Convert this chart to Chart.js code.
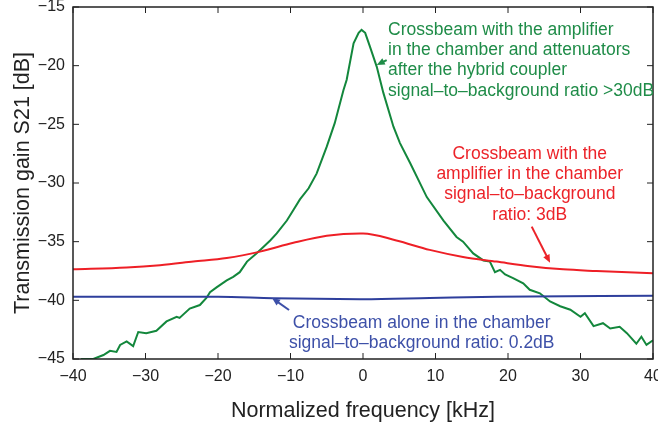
<!DOCTYPE html>
<html>
<head>
<meta charset="utf-8">
<script src="https://cdn.jsdelivr.net/npm/chart.js@4/dist/chart.umd.min.js"></script>
<style>
  html, body { margin: 0; padding: 0; background: #fff; }
  #wrap { width: 658px; height: 428px; }
</style>
</head>
<body>
<div id="wrap"><canvas id="myChart"></canvas></div>
<script>
// ticks
var xTicks = [-40, -30, -20, -10, 0, 10, 20, 30, 40];
var yTicks = [-45, -40, -35, -30, -25, -20, -15];

// green: amplifier in chamber + attenuators after hybrid coupler
var greenFreq = [-40, -38.8, -37.2, -35.8, -34.9, -34.0, -33.5, -32.6, -31.7, -31.0, -29.9, -28.5, -27.1, -25.7, -25.3,
  -23.9, -22.5, -21.6, -21.1, -20.2, -18.8, -17.9, -17.0, -16.0, -14.7, -14.0, -12.8, -11.9, -10.5, -9.6, -8.7,
  -7.5, -6.4, -5.0, -3.9, -2.7, -2.25, -1.3, -0.6, -0.2, 0.3, 0.97, 1.9, 2.8, 4.2, 5.1, 6.5, 8.8, 11.1, 12.9, 13.8,
  15.2, 16.6, 17.5, 18.2, 18.9, 19.6, 20.7, 22.1, 23.0, 24.4, 25.8, 27.2, 28.6, 30.0, 30.6, 31.8, 33.1, 34.1,
  35.4, 36.4, 37.7, 38.4, 39.1, 40];
var greenGain = [-45.9, -45.0, -45.0, -44.66, -44.3, -44.4, -43.8, -43.5, -43.9, -42.7, -42.8, -42.6, -41.8, -41.4, -41.5,
  -40.7, -40.4, -39.8, -39.3, -38.9, -38.3, -38.0, -37.6, -36.7, -36.0, -35.6, -34.9, -34.3, -33.2, -32.3, -31.4,
  -30.45, -29.2, -26.9, -24.9, -22.1, -21.2, -18.1, -17.2, -16.95, -17.2, -18.4, -20.1, -22.3, -25.2, -26.6, -28.3, -31.2, -33.2, -34.6, -35.0,
  -36.0, -36.6, -36.7, -37.6, -37.4, -37.8, -38.1, -38.55, -39.1, -39.4, -40.1, -40.5, -40.8, -41.4, -41.1, -42.2, -41.95, -42.4,
  -42.25, -42.8, -43.7, -43.1, -43.8, -43.4];

// red: amplifier in chamber
var redFreq = [-40, -32.6, -28.0, -23.4, -18.8, -14.2, -9.6, -5.0, -0.4, 0, 4.6, 9.2, 13.8, 18.4, 23.0, 27.6, 32.2, 40];
var redGain = [-37.36, -37.2, -37.0, -36.7, -36.4, -35.85, -35.1, -34.5, -34.3, -34.3, -34.9, -35.7, -36.3, -36.7, -37.1, -37.36, -37.5, -37.7];

// blue: crossbeam alone
var blueFreq = [-40, -20, -12.4, -0.4, 0, 9.2, 18.4, 40];
var blueGain = [-39.7, -39.7, -39.83, -39.9, -39.9, -39.8, -39.7, -39.6];

var greenLabel = ['Crossbeam with the amplifier', 'in the chamber and attenuators', 'after the hybrid coupler', 'signal\u2013to\u2013background ratio >30dB'];
var redLabel = ['Crossbeam with the', 'amplifier in the chamber', 'signal\u2013to\u2013background', 'ratio: 3dB'];
var blueLabel = ['Crossbeam alone in the chamber', 'signal\u2013to\u2013background ratio: 0.2dB'];

function pts(xs, ys) {
  return xs.map(function (x, i) { return { x: x, y: ys[i] }; });
}

var notes = [
  { lines: greenLabel, x: 3.45, y: -16.96, align: 'left', color: '#1f8c48',
    arrow: [3.27, -19.52, 1.89, -19.94] },
  { lines: redLabel, x: 23.0, y: -27.53, align: 'center', color: '#ec2329',
    arrow: [23.27, -33.72, 25.8, -36.79] },
  { lines: blueLabel, x: 8.1, y: -41.93, align: 'center', color: '#3d50a8',
    arrow: [-10.2, -40.82, -12.55, -39.8] }
];

function drawArrow(c, x1, y1, x2, y2, color) {
  var a = Math.atan2(y2 - y1, x2 - x1);
  c.strokeStyle = color;
  c.fillStyle = color;
  c.lineWidth = 2;
  c.beginPath();
  c.moveTo(x1, y1);
  c.lineTo(x2 - 5 * Math.cos(a), y2 - 5 * Math.sin(a));
  c.stroke();
  c.beginPath();
  c.moveTo(x2, y2);
  c.lineTo(x2 - 8 * Math.cos(a) + 3.5 * Math.sin(a), y2 - 8 * Math.sin(a) - 3.5 * Math.cos(a));
  c.lineTo(x2 - 8 * Math.cos(a) - 3.5 * Math.sin(a), y2 - 8 * Math.sin(a) + 3.5 * Math.cos(a));
  c.closePath();
  c.fill();
}

var frame = {
  id: 'frame',
  afterDatasetsDraw: function (chart) {
    var c = chart.ctx, a = chart.chartArea;
    var xs = chart.scales.x, ys = chart.scales.y;
    c.save();
    c.strokeStyle = '#222';
    c.lineWidth = 1.5;
    c.strokeRect(a.left, a.top, a.right - a.left, a.bottom - a.top);
    c.lineWidth = 1;
    c.beginPath();
    xTicks.forEach(function (v) {
      var p = xs.getPixelForValue(v);
      c.moveTo(p, a.bottom); c.lineTo(p, a.bottom - 6);
      c.moveTo(p, a.top); c.lineTo(p, a.top + 6);
    });
    yTicks.forEach(function (v) {
      var p = ys.getPixelForValue(v);
      c.moveTo(a.left, p); c.lineTo(a.left + 6, p);
      c.moveTo(a.right, p); c.lineTo(a.right - 6, p);
    });
    c.stroke();

    c.font = '17.5px "Liberation Sans", Arial, sans-serif';
    c.textBaseline = 'middle';
    notes.forEach(function (n) {
      var px = xs.getPixelForValue(n.x), py = ys.getPixelForValue(n.y);
      c.fillStyle = n.color;
      c.textAlign = n.align;
      n.lines.forEach(function (t, i) { c.fillText(t, px, py + i * 20.3); });
      drawArrow(c, xs.getPixelForValue(n.arrow[0]), ys.getPixelForValue(n.arrow[1]),
        xs.getPixelForValue(n.arrow[2]), ys.getPixelForValue(n.arrow[3]), n.color);
    });
    c.restore();
  }
};

function minus(v) { return String(v).replace('-', '\u2212'); }

var ctx = document.getElementById('myChart').getContext('2d');
var myChart = new Chart(ctx, {
  type: 'line',
  data: {
    datasets: [{
      label: 'red',
      data: pts(redFreq, redGain),
      borderColor: '#ee1f26',
      borderWidth: 2,
      pointRadius: 0,
      tension: 0.4,
      cubicInterpolationMode: 'monotone'
    }, {
      label: 'blue',
      data: pts(blueFreq, blueGain),
      borderColor: '#2e3f9c',
      borderWidth: 2,
      pointRadius: 0,
      tension: 0.4,
      cubicInterpolationMode: 'monotone'
    }, {
      label: 'green',
      data: pts(greenFreq, greenGain),
      borderColor: '#13873c',
      borderWidth: 2,
      pointRadius: 0,
      tension: 0
    }]
  },
  options: {
    responsive: true,
    maintainAspectRatio: false,
    animation: false,
    layout: { padding: { left: 0, right: 5, top: 7, bottom: 0 } },
    plugins: { legend: { display: false }, tooltip: { enabled: false } },
    scales: {
      x: {
        type: 'linear', min: -40, max: 40,
        afterFit: function (s) { s.height = 69; s.paddingLeft = 0; s.paddingRight = 0; },
        grid: { display: false },
        border: { display: false },
        ticks: { stepSize: 10, color: '#222', padding: 0, maxRotation: 0,
          font: { family: '"Liberation Sans", Arial, sans-serif', size: 16 },
          callback: function (v) { return minus(v); } },
        title: { display: true, text: 'Normalized frequency [kHz]', color: '#222',
          padding: { top: 8 },
          font: { family: '"Liberation Sans", Arial, sans-serif', size: 21.5 } }
      },
      y: {
        min: -45, max: -15,
        afterFit: function (s) { s.width = 73; s.paddingTop = 0; s.paddingBottom = 0; },
        grid: { display: false },
        border: { display: false },
        ticks: { stepSize: 5, color: '#222', padding: 0,
          font: { family: '"Liberation Sans", Arial, sans-serif', size: 16 },
          callback: function (v) { return minus(v); } },
        title: { display: true, text: 'Transmission gain S21 [dB]', color: '#222',
          padding: { top: 10, bottom: 2 },
          font: { family: '"Liberation Sans", Arial, sans-serif', size: 21.5 } }
      }
    }
  },
  plugins: [frame]
});
</script>
</body>
</html>
